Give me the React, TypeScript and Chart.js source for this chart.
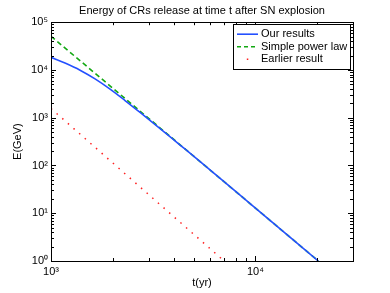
import React, { useEffect, useRef } from "react";
import { Chart, registerables } from "chart.js";

Chart.register(...registerables);

// ---- data ----
const titleText = "Energy of CRs release at time t after SN explosion";
const xLabel = "t(yr)";
const yLabel = "E(GeV)";

const ourT = [1000, 1171, 1387, 1642, 1945, 2302, 2727, 3416, 4279, 5000, 10000, 20300];
const ourE = [18400, 13930, 9890, 6500, 3972, 2291, 1290, 593, 268, 155, 12.8, 1];

const powT = [1000, 2000, 5000, 10000, 20300];
const powE = [50800, 4190, 155, 12.8, 1];

const earlyT = [1000, 2000, 5000, 7030];
const earlyE = [1560, 114, 3.6, 1];

const seriesNames = ["Our results", "Simple power law", "Earlier result"];
const xTicks = [1000, 10000];
const yTicks = [1, 10, 100, 1000, 10000, 100000];
const xRange = [1000, 30000];
const yRange = [1, 100000];

const FONT = "'Liberation Sans', Arial, Helvetica, sans-serif";
const BLUE = "#2450ff";
const GREEN = "#12a812";
const RED = "#ff2020";

const SUP: Record<string, string> = {
  "0": "\u2070", "1": "\u00b9", "2": "\u00b2", "3": "\u00b3", "4": "\u2074",
  "5": "\u2075", "6": "\u2076", "7": "\u2077", "8": "\u2078", "9": "\u2079",
};
function pow10Label(v: number): string {
  const e = Math.round(Math.log10(v));
  return "10" + String(e).split("").map((c) => SUP[c] || c).join("");
}

const framePlugin = {
  id: "frame",
  afterDatasetsDraw(chart: any) {
    const { ctx, chartArea: a, scales } = chart;
    const xs = scales.x;
    const ys = scales.y;
    ctx.save();
    ctx.strokeStyle = "#000";
    ctx.lineWidth = 1;
    ctx.beginPath();
    for (let d = 3; d <= 5; d++) {
      for (let m = 1; m <= 9; m++) {
        const v = m * Math.pow(10, d);
        if (v < xs.min || v > xs.max) continue;
        const px = Math.round(xs.getPixelForValue(v)) + 0.5;
        const len = m === 1 ? 5 : 3;
        ctx.moveTo(px, a.bottom);
        ctx.lineTo(px, a.bottom - len);
        ctx.moveTo(px, a.top);
        ctx.lineTo(px, a.top + len);
      }
    }
    for (let d = 0; d <= 5; d++) {
      for (let m = 1; m <= 9; m++) {
        const v = m * Math.pow(10, d);
        if (v < ys.min || v > ys.max) continue;
        const py = Math.round(ys.getPixelForValue(v)) + 0.5;
        const len = m === 1 ? 5 : 3;
        ctx.moveTo(a.left, py);
        ctx.lineTo(a.left + len, py);
        ctx.moveTo(a.right, py);
        ctx.lineTo(a.right - len, py);
      }
    }
    ctx.stroke();
    ctx.strokeRect(Math.round(a.left) + 0.5, Math.round(a.top) + 0.5,
      Math.round(a.right - a.left), Math.round(a.bottom - a.top));
    ctx.restore();
  },
  afterDraw(chart: any) {
    const { ctx, chartArea: a } = chart;
    const bx = a.right - 120;
    const by = a.top + 2;
    const bw = 117;
    const bh = 45;
    ctx.save();
    ctx.fillStyle = "#fff";
    ctx.fillRect(bx, by, bw, bh);
    ctx.strokeStyle = "#000";
    ctx.lineWidth = 1;
    ctx.setLineDash([]);
    ctx.strokeRect(Math.round(bx) + 0.5, Math.round(by) + 0.5, bw, bh);
    const rows = [by + 10, by + 22.5, by + 35];
    const x1 = bx + 4;
    const x2 = bx + 25;
    ctx.strokeStyle = BLUE;
    ctx.lineWidth = 1.6;
    ctx.beginPath();
    ctx.moveTo(x1, rows[0]);
    ctx.lineTo(x2, rows[0]);
    ctx.stroke();
    ctx.strokeStyle = GREEN;
    ctx.setLineDash([4, 3]);
    ctx.beginPath();
    ctx.moveTo(x1, rows[1]);
    ctx.lineTo(x2, rows[1]);
    ctx.stroke();
    ctx.setLineDash([]);
    ctx.fillStyle = RED;
    ctx.fillRect((x1 + x2) / 2 - 0.7, rows[2] - 0.7, 1.5, 1.5);
    ctx.fillStyle = "#000";
    ctx.font = `11px ${FONT}`;
    ctx.textBaseline = "middle";
    ctx.textAlign = "left";
    seriesNames.forEach((n, i) => ctx.fillText(n, bx + 28, rows[i]));
    ctx.restore();
  },
};

export default function App() {
  const ref = useRef<HTMLCanvasElement | null>(null);
  useEffect(() => {
    document.body.style.margin = "0";
    const canvas = ref.current;
    if (!canvas) return;
    const tickFont = { family: FONT, size: 11 };
    const chart = new Chart(canvas, {
      type: "line",
      data: {
        datasets: [
          {
            label: seriesNames[0],
            data: ourT.map((t, i) => ({ x: t, y: ourE[i] })),
            borderColor: BLUE,
            borderWidth: 1.6,
            pointRadius: 0,
            fill: false,
            cubicInterpolationMode: "monotone",
          },
          {
            label: seriesNames[1],
            data: powT.map((t, i) => ({ x: t, y: powE[i] })),
            borderColor: GREEN,
            borderWidth: 1.6,
            borderDash: [5, 3.3],
            pointRadius: 0,
            fill: false,
          },
          {
            label: seriesNames[2],
            data: earlyT.map((t, i) => ({ x: t, y: earlyE[i] })),
            borderColor: RED,
            borderWidth: 1.5,
            borderDash: [1.5, 6],
            pointRadius: 0,
            fill: false,
          },
        ],
      },
      options: {
        animation: false,
        responsive: false,
        devicePixelRatio: 1,
        layout: { padding: { left: 0, right: 37, top: 0, bottom: 0 } },
        plugins: {
          legend: { display: false },
          tooltip: { enabled: false },
          title: {
            display: true,
            fullSize: false,
            text: titleText,
            color: "#000",
            font: { family: FONT, size: 11, weight: "normal" },
            padding: { top: 4, bottom: 5 },
          },
        },
        scales: {
          x: {
            type: "logarithmic",
            min: xRange[0],
            max: xRange[1],
            afterBuildTicks: (s: any) => {
              s.ticks = xTicks.map((v) => ({ value: v }));
            },
            afterFit: (s: any) => {
              s.height = 32;
            },
            grid: { display: false, drawTicks: false },
            border: { display: false },
            ticks: {
              callback: (v: any) => pow10Label(Number(v)),
              color: "#000",
              font: tickFont,
              padding: 4,
              maxRotation: 0,
              autoSkip: false,
            },
            title: {
              display: true,
              text: xLabel,
              color: "#000",
              font: tickFont,
              padding: { top: 0, bottom: 3 },
            },
          },
          y: {
            type: "logarithmic",
            min: yRange[0],
            max: yRange[1],
            afterBuildTicks: (s: any) => {
              s.ticks = yTicks.map((v) => ({ value: v }));
            },
            afterFit: (s: any) => {
              s.width = 51;
            },
            grid: { display: false, drawTicks: false },
            border: { display: false },
            ticks: {
              callback: (v: any) => pow10Label(Number(v)),
              color: "#000",
              font: tickFont,
              padding: 3,
              autoSkip: false,
            },
            title: {
              display: true,
              text: yLabel,
              color: "#000",
              font: tickFont,
              padding: { top: 11, bottom: 0 },
            },
          },
        },
      },
      plugins: [framePlugin],
    } as any);
    return () => chart.destroy();
  }, []);
  return (
    <div style={{ width: 390, height: 293 }}>
      <canvas ref={ref} width={390} height={293} style={{ display: "block" }} />
    </div>
  );
}
